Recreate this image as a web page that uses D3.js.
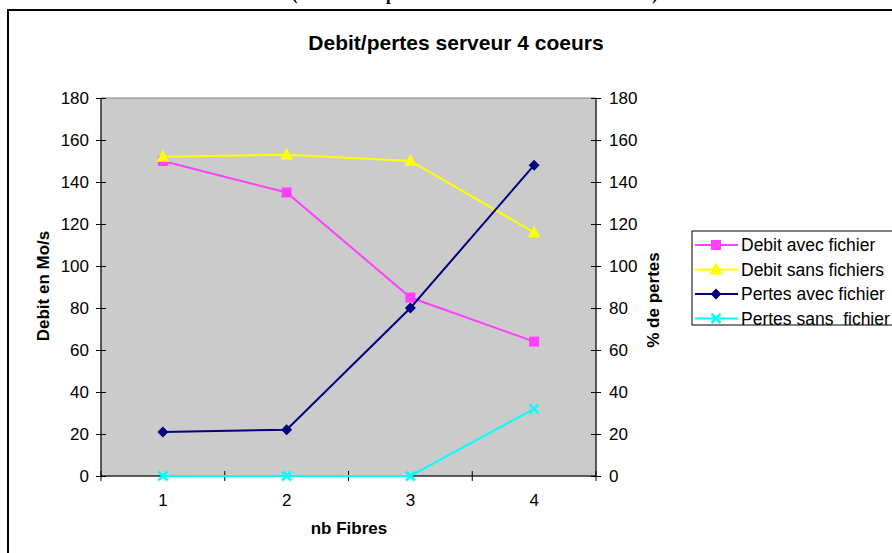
<!DOCTYPE html>
<html>
<head>
<meta charset="utf-8">
<script src="https://cdn.jsdelivr.net/npm/d3@7"></script>
<style>
	body { margin: 0; background: #fff; }
	svg { display: block; font-family: Arial, "Liberation Sans", sans-serif; }
</style>
</head>
<body>
<div id="chart"></div>
<script>
// Data
var fibres = [1, 2, 3, 4];
var debitAvec = [150, 135, 85, 64];
var debitSans = [152, 153, 150, 116];
var pertesAvec = [21, 22, 80, 148];
var pertesSans = [0, 0, 0, 32];
var yTicks = [0, 20, 40, 60, 80, 100, 120, 140, 160, 180];
var seriesNames = ['Debit avec fichier', 'Debit sans fichiers', 'Pertes avec fichier', 'Pertes sans  fichier'];

var width = 892, height = 553;
var plot = { left: 101, right: 596, top: 98, bottom: 476 };

var svg = d3.select('#chart').append('svg')
	.attr('width', width)
	.attr('height', height);

// bits of the document text above the chart (cut off by the crop)
var head = svg.append('g')
	.style('font-family', '"Liberation Serif", "Times New Roman", serif')
	.style('font-weight', 'bold')
	.style('font-size', '28px');
head.append('text').attr('x', 292).attr('y', 0).text('(');
head.append('text').attr('x', 386).attr('y', 0).text('p');
head.append('text').attr('x', 652).attr('y', 0).text(')');

// chart frame
svg.append('rect')
	.attr('x', 8).attr('y', 10)
	.attr('width', 900).attr('height', 560)
	.attr('fill', '#fff')
	.attr('stroke', '#000')
	.attr('stroke-width', 2);

svg.append('text')
	.attr('x', 456).attr('y', 50)
	.attr('text-anchor', 'middle')
	.style('font-weight', 'bold')
	.style('font-size', '21px')
	.text('Debit/pertes serveur 4 coeurs');

// scales
var x = d3.scaleBand().domain(fibres).range([plot.left, plot.right]);
var y = d3.scaleLinear().domain([0, 180]).range([plot.bottom, plot.top]);
var y2 = d3.scaleLinear().domain([0, 180]).range([plot.bottom, plot.top]);
var cx = function (d) { return x(d) + x.bandwidth() / 2; };

svg.append('rect')
	.attr('x', plot.left).attr('y', plot.top)
	.attr('width', plot.right - plot.left)
	.attr('height', plot.bottom - plot.top)
	.attr('fill', '#cbcbcb')
	.attr('stroke', '#808080')
	.attr('stroke-width', 1);

// axes
var axisLeft = svg.append('g')
	.attr('transform', 'translate(' + plot.left + ',0)')
	.call(d3.axisLeft(y).tickValues(yTicks).tickSize(5).tickPadding(7));
var axisRight = svg.append('g')
	.attr('transform', 'translate(' + plot.right + ',0)')
	.call(d3.axisRight(y2).tickValues(yTicks).tickSize(5).tickPadding(8));
axisLeft.selectAll('.tick line').attr('x1', 5);
axisRight.selectAll('.tick line').attr('x1', -5);

var axisBottom = svg.append('g')
	.attr('transform', 'translate(0,' + plot.bottom + ')');
axisBottom.append('line')
	.attr('x1', plot.left).attr('x2', plot.right)
	.attr('stroke', '#000');
axisBottom.selectAll('.xtick')
	.data(fibres.concat([null]))
	.enter().append('line')
	.attr('x1', function (d) { return d == null ? plot.right : x(d); })
	.attr('x2', function (d) { return d == null ? plot.right : x(d); })
	.attr('y1', -5).attr('y2', 5)
	.attr('stroke', '#000');
axisBottom.selectAll('.xlabel')
	.data(fibres)
	.enter().append('text')
	.attr('x', cx)
	.attr('y', 30)
	.attr('text-anchor', 'middle')
	.attr('fill', '#000')
	.text(function (d) { return d; });

svg.selectAll('.domain, .tick line').attr('stroke', '#000').attr('stroke-width', 1);
svg.selectAll('.tick text, g text').style('font-size', '17px').attr('fill', '#000');
axisLeft.select('.domain').attr('d', 'M0,' + plot.top + 'V' + plot.bottom);
axisRight.select('.domain').attr('d', 'M0,' + plot.top + 'V' + plot.bottom);

// axis titles
svg.append('text')
	.attr('transform', 'translate(49,286) rotate(-90)')
	.attr('text-anchor', 'middle')
	.style('font-weight', 'bold').style('font-size', '17px')
	.text('Debit en Mo/s');
svg.append('text')
	.attr('transform', 'translate(659,300) rotate(-90)')
	.attr('text-anchor', 'middle')
	.style('font-weight', 'bold').style('font-size', '17px')
	.text('% de pertes');
svg.append('text')
	.attr('x', 349).attr('y', 534)
	.attr('text-anchor', 'middle')
	.style('font-weight', 'bold').style('font-size', '17px')
	.text('nb Fibres');

// markers
function drawMarker(g, type, color) {
	if (type === 'square') {
		g.append('rect').attr('x', -5).attr('y', -5).attr('width', 10).attr('height', 10).attr('fill', color);
	} else if (type === 'triangle') {
		g.append('path').attr('d', 'M0,-7L6.5,5L-6.5,5Z').attr('fill', color);
	} else if (type === 'diamond') {
		g.append('path').attr('d', 'M0,-5.5L5.5,0L0,5.5L-5.5,0Z').attr('fill', color);
	} else {
		g.append('path').attr('d', 'M-4.5,-4.5L4.5,4.5M4.5,-4.5L-4.5,4.5').attr('stroke', color).attr('stroke-width', 2.5);
	}
}

var series = [
	{ name: seriesNames[0], values: debitAvec, scale: y, color: '#ff40ff', marker: 'square' },
	{ name: seriesNames[1], values: debitSans, scale: y, color: '#ffff00', marker: 'triangle' },
	{ name: seriesNames[2], values: pertesAvec, scale: y2, color: '#000080', marker: 'diamond' },
	{ name: seriesNames[3], values: pertesSans, scale: y2, color: '#00ffff', marker: 'cross' }
];

series.forEach(function (s) {
	var line = d3.line()
		.x(function (d, i) { return cx(fibres[i]); })
		.y(function (d) { return s.scale(d); });
	svg.append('path')
		.datum(s.values)
		.attr('d', line)
		.attr('fill', 'none')
		.attr('stroke', s.color)
		.attr('stroke-width', 2);
	s.values.forEach(function (v, i) {
		var g = svg.append('g').attr('transform', 'translate(' + cx(fibres[i]) + ',' + s.scale(v) + ')');
		drawMarker(g, s.marker, s.color);
	});
});

// legend
var legend = svg.append('g').attr('transform', 'translate(692,231)');
legend.append('rect')
	.attr('x', 0).attr('y', 0)
	.attr('width', 220).attr('height', 94)
	.attr('fill', '#fff')
	.attr('stroke', '#000');
series.forEach(function (s, i) {
	var ry = 14 + i * 24.5;
	legend.append('line')
		.attr('x1', 3).attr('x2', 46)
		.attr('y1', ry).attr('y2', ry)
		.attr('stroke', s.color).attr('stroke-width', 2);
	drawMarker(legend.append('g').attr('transform', 'translate(24,' + ry + ')'), s.marker, s.color);
	legend.append('text')
		.attr('x', 49).attr('y', ry + 6)
		.style('font-size', '17.5px')
		.style('white-space', 'pre')
		.attr('xml:space', 'preserve')
		.text(s.name);
});
</script>
</body>
</html>
